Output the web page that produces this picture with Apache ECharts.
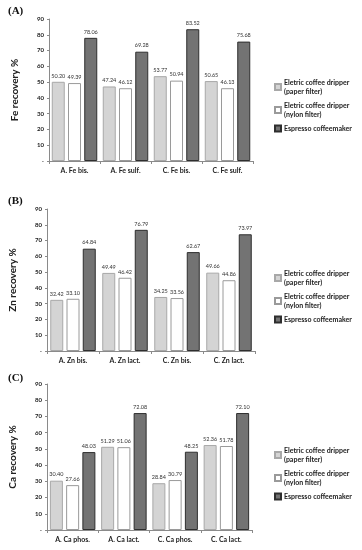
<!DOCTYPE html>
<html><head><meta charset="utf-8">
<script src="https://cdn.jsdelivr.net/npm/echarts@6/dist/echarts.min.js"></script>
<style>html,body{margin:0;padding:0;background:#fff}#c{width:362px;height:550px}</style>
</head><body><div id="c"></div>
<script>
const catsA = ['A. Fe bis.', 'A. Fe sulf.', 'C. Fe bis.', 'C. Fe sulf.'];
const catsB = ['A. Zn bis.', 'A. Zn lact.', 'C. Zn bis.', 'C. Zn lact.'];
const catsC = ['A. Ca phos.', 'A. Ca lact.', 'C. Ca phos.', 'C. Ca lact.'];
const paperA = [50.20, 47.24, 53.77, 50.65];
const nylonA = [49.39, 46.12, 50.94, 46.13];
const espA = [78.06, 69.28, 83.52, 75.68];
const paperB = [32.42, 49.49, 34.25, 49.66];
const nylonB = [33.10, 46.42, 33.56, 44.86];
const espB = [64.84, 76.79, 62.67, 73.97];
const paperC = [30.40, 51.29, 28.84, 52.36];
const nylonC = [27.66, 51.06, 30.79, 51.78];
const espC = [48.03, 72.08, 48.25, 72.10];
const seriesNames = ['Eletric coffee dripper\n(paper filter)', 'Eletric coffee dripper\n(nylon filter)', 'Espresso coffeemaker'];
const yNames = ['Fe recovery %', 'Zn recovery %', 'Ca recovery %'];
const panelTitles = ['(A)', '(B)', '(C)'];

const FONT = 'Lato';
const grids = [
  {left: 49, right: 109, top: 19, bottom: 389},
  {left: 44, right: 107, top: 209, bottom: 199},
  {left: 41, right: 110, top: 384, bottom: 20}
];
const cats = [catsA, catsB, catsC];
const data = [[paperA, nylonA, espA], [paperB, nylonB, espB], [paperC, nylonC, espC]];
const styles = [
  {color: '#d4d4d4', borderColor: '#a8a8a8', borderWidth: 1},
  {color: '#ffffff', borderColor: '#9a9a9a', borderWidth: 1},
  {color: '#737373', borderColor: '#2e2e2e', borderWidth: 1}
];
const legendTops = [73, 264, 441];
const titleTops = [1, 191, 368];

const option = {
  animation: false,
  backgroundColor: '#fff',
  textStyle: {fontFamily: FONT},
  title: panelTitles.map((t, i) => ({
    text: t, left: 3, top: titleTops[i],
    textStyle: {fontFamily: 'Liberation Serif', fontWeight: 'bold', fontSize: 11, color: '#111'}
  })),
  grid: grids,
  legend: legendTops.map((t, i) => ({
    orient: 'vertical', left: 269, top: t, itemWidth: 6, itemHeight: 6, itemGap: 5,
    icon: 'rect',
    data: seriesNames,
    selectedMode: false,
    textStyle: {fontFamily: FONT, fontSize: 7, fontWeight: 'bold', color: '#222', lineHeight: 9, padding: [0, 0, 0, -2]}
  })),
  xAxis: cats.map((c, i) => ({
    type: 'category', gridIndex: i, data: c,
    axisLine: {lineStyle: {color: '#8a8a8a', width: 1}},
    axisTick: {show: true, length: 3, lineStyle: {color: '#8a8a8a'}},
    axisLabel: {interval: 0, fontSize: 7, fontWeight: 'bold', color: '#222', margin: 6}
  })),
  yAxis: yNames.map((n, i) => ({
    type: 'value', gridIndex: i, min: 0, max: 90, interval: 10,
    name: n, nameLocation: 'middle', nameGap: 29,
    nameTextStyle: {fontSize: 10, fontWeight: 'bold', color: '#222', fontFamily: FONT},
    splitLine: {show: false},
    axisLine: {show: true, lineStyle: {color: '#8a8a8a'}},
    axisTick: {show: true, length: 2, lineStyle: {color: '#8a8a8a'}},
    axisLabel: {fontSize: 6, fontWeight: 'bold', color: '#222', margin: 5,
      formatter: v => v === 0 ? '-' : String(v)}
  })),
  series: []
};
for (let g = 0; g < 3; g++) {
  for (let s = 0; s < 3; s++) {
    option.series.push({
      type: 'bar', name: seriesNames[s], xAxisIndex: g, yAxisIndex: g,
      data: data[g][s], barWidth: 13, barGap: '25%',
      itemStyle: styles[s],
      label: {show: true, position: 'top', distance: 3, fontSize: 5.5, color: '#333',
        formatter: p => p.value.toFixed(2)}
    });
  }
}
const chart = echarts.init(document.getElementById('c'), null, {renderer: 'canvas'});
chart.setOption(option);
</script></body></html>
